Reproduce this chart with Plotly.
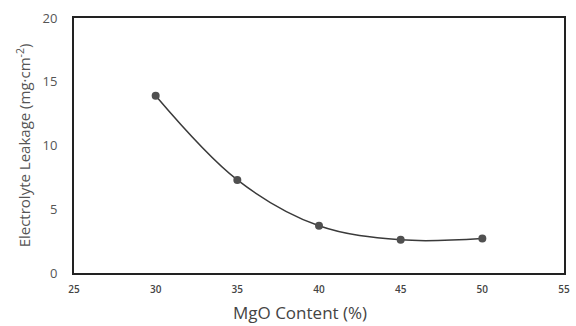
import plotly.graph_objects as go

mgo_content = [30, 35, 40, 45, 50]
leakage = [13.9, 7.3, 3.7, 2.6, 2.7]

x_ticks = [25, 30, 35, 40, 45, 50, 55]
y_ticks = [0, 5, 10, 15, 20]

fig = go.Figure()
fig.add_trace(go.Scatter(
    x=mgo_content, y=leakage,
    mode="lines+markers",
    line=dict(shape="spline", smoothing=1.0, color="#3a3a3a", width=1.5),
    marker=dict(size=8, color="#505050"),
    showlegend=False,
))

fig.update_layout(
    width=576, height=326,
    margin=dict(l=74, r=6, t=18, b=53),
    paper_bgcolor="white", plot_bgcolor="white",
    font=dict(family="Open Sans, sans-serif", color="#555555"),
)
fig.update_xaxes(
    range=[25, 55], tickvals=x_ticks, ticktext=[str(v) for v in x_ticks],
    showgrid=False, zeroline=False, showline=True, mirror=True,
    linecolor="#222222", linewidth=2, ticks="", ticklabelstandoff=6,
    tickfont=dict(size=10, color="#444444", weight=600),
)
fig.update_yaxes(
    range=[0, 20], tickvals=y_ticks,
    showgrid=False, zeroline=False, showline=True, mirror=True,
    linecolor="#222222", linewidth=2, ticks="", ticklabelstandoff=12,
    tickfont=dict(size=13, color="#555555"),
    title=dict(text="Electrolyte Leakage (mg·cm<sup>-2</sup>)", font=dict(size=15, color="#555555"), standoff=8),
)

# x-axis title, set slightly left of the plot-area centre
fig.add_annotation(
    text="MgO Content (%)", xref="paper", yref="paper",
    x=0.462, y=-0.106, xanchor="center", yanchor="top",
    showarrow=False, borderpad=0, font=dict(size=17, color="#444444"),
)

fig.write_html("out.html")
